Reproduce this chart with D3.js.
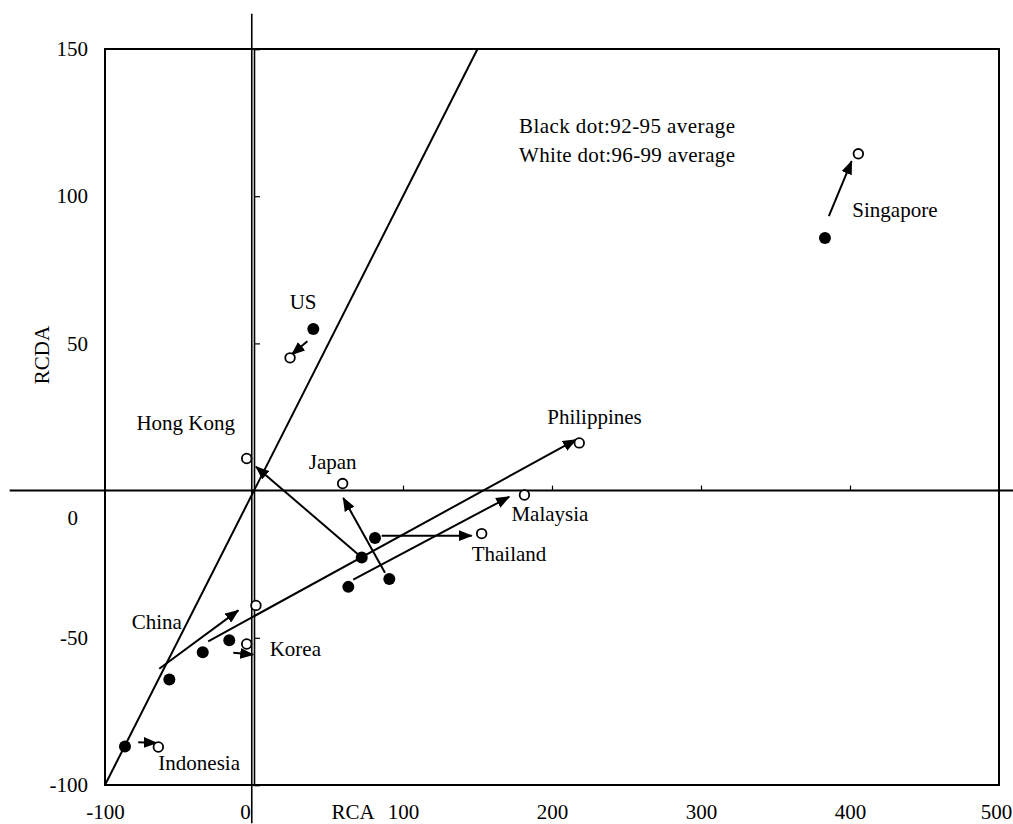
<!DOCTYPE html>
<html>
<head>
<meta charset="utf-8">
<script src="https://cdn.jsdelivr.net/npm/d3@7"></script>
<style>
  html, body { margin: 0; padding: 0; background: #fff; }
  svg { display: block; }
  text { font-family: "Liberation Serif", "Times New Roman", serif; fill: #000; }
</style>
</head>
<body>
<svg id="chart" width="1013" height="824"></svg>
<script>
// Tick values
const xTicks = [-100, 0, 100, 200, 300, 400, 500];
const yTicks = [-100, -50, 0, 50, 100, 150];

// Countries and their (RCA, RCDA) positions
const countries = ["Singapore", "US", "Hong Kong", "Japan", "Thailand", "Malaysia", "Philippines", "Korea", "China", "Indonesia"];
// 1992-95 average (black dots)
const rca9295  = [383.2, 39.8, 72.3, 90.8, 81.2, 63.3, -34.4, -16.6, -56.8, -86.6];
const rcda9295 = [85.8, 54.9, -22.7, -30.0, -16.1, -32.7, -54.9, -50.8, -64.2, -86.9];
// 1996-99 average (white dots)
const rca9699  = [405.6, 24.2, -4.9, 59.5, 152.8, 181.5, 218.3, -4.9, 1.3, -64.2];
const rcda9699 = [114.4, 45.1, 10.9, 2.4, -14.6, -1.5, 16.2, -52.1, -39.0, -87.1];

// Movement arrows (start and tip, in RCA / RCDA units)
const arrowFromRCA  = [385.8, 35.8, 72.3, 87.9, 85.7, 66.6, -30.7, -13.9, -63.6, -77.7];
const arrowFromRCDA = [93.2, 50.7, -22.7, -27.9, -15.3, -30.2, -51.2, -55.1, -60.5, -85.5];
const arrowToRCA    = [401.1, 25.3, 1.3, 59.9, 146.1, 171.3, 216.1, -0.5, -10.5, -65.3];
const arrowToRCDA   = [111.9, 46.2, 8.1, -2.5, -15.3, -2.1, 17.3, -55.7, -40.7, -85.7];

// Reference line RCDA = RCA
const diagRCA  = [-100, 150];
const diagRCDA = [-100, 150];

// Crossing guide lines through the origin
const guideVRCA = -1.5, guideVRCDA = [162, -113];
const guideHRCDA = 0,   guideHRCA = [-164, 510];

const legendLines = ["Black dot:92-95 average", "White dot:96-99 average"];

// Label placement relative to the white dot (pixels)
const labelLayout = {
  "Singapore":   { dx: -6,  dy: 63,  anchor: "start" },
  "US":          { dx: 13,  dy: -49, anchor: "middle" },
  "Hong Kong":   { dx: -61, dy: -29, anchor: "middle" },
  "Japan":       { dx: -10, dy: -15, anchor: "middle" },
  "Thailand":    { dx: -10, dy: 27,  anchor: "start" },
  "Malaysia":    { dx: -13, dy: 26,  anchor: "start" },
  "Philippines": { dx: -32, dy: -19, anchor: "start" },
  "Korea":       { dx: 23,  dy: 12,  anchor: "start" },
  "China":       { dx: -74, dy: 24,  anchor: "end" },
  "Indonesia":   { dx: 0,   dy: 23,  anchor: "start" }
};

const FONT = 21;
const svg = d3.select("#chart");

const x = d3.scaleLinear().domain([-100, 500]).range([105, 999]);
const y = d3.scaleLinear().domain([-100, 150]).range([785, 49]);

// Plain hyphen-minus tick text
const fmt = d => String(d);

// Arrowhead
svg.append("defs").append("marker")
  .attr("id", "head")
  .attr("viewBox", "0 0 14 11")
  .attr("refX", 13).attr("refY", 5.5)
  .attr("markerWidth", 14).attr("markerHeight", 11)
  .attr("markerUnits", "userSpaceOnUse")
  .attr("orient", "auto")
  .append("path").attr("d", "M0,0L14,5.5L0,11Z").attr("fill", "#000");

// Plot frame
svg.append("rect")
  .attr("x", x(-100)).attr("y", y(150))
  .attr("width", x(500) - x(-100)).attr("height", y(-100) - y(150))
  .attr("fill", "none").attr("stroke", "#000").attr("stroke-width", 2);

// Guide lines crossing the whole figure
svg.append("line")
  .attr("x1", x(guideVRCA)).attr("x2", x(guideVRCA))
  .attr("y1", y(guideVRCDA[0])).attr("y2", y(guideVRCDA[1]))
  .attr("stroke", "#000").attr("stroke-width", 1.6);
svg.append("line")
  .attr("x1", x(guideHRCA[0])).attr("x2", x(guideHRCA[1]))
  .attr("y1", y(guideHRCDA)).attr("y2", y(guideHRCDA))
  .attr("stroke", "#000").attr("stroke-width", 2);

// Axes crossing at the origin, with inner ticks
const yAxisIn = d3.axisRight(y).tickValues(yTicks.filter(v => v !== 0)).tickSize(6).tickFormat("");
svg.append("g").attr("transform", `translate(${x(0)},0)`).call(yAxisIn)
  .call(g => g.selectAll("path.domain").attr("stroke-width", 1.6))
  .call(g => g.selectAll("line").attr("stroke-width", 1.2));
const xAxisIn = d3.axisTop(x).tickValues(xTicks.filter(v => v !== 0 && v !== -100 && v !== 500)).tickSize(5).tickFormat("");
svg.append("g").attr("transform", `translate(0,${y(0)})`).call(xAxisIn)
  .call(g => g.selectAll("path.domain").remove())
  .call(g => g.selectAll("line").attr("stroke-width", 1.2));

// Tick labels on the frame
const yLab = svg.append("g").attr("transform", `translate(${x(-100)},0)`)
  .call(d3.axisLeft(y).tickValues(yTicks).tickSize(0).tickPadding(17).tickFormat(fmt));
yLab.select(".domain").remove();
yLab.attr("font-family", "Liberation Serif").attr("font-size", FONT);
yLab.selectAll("text").filter(d => d === 0).attr("transform", "translate(-10,27)");

const xLab = svg.append("g").attr("transform", `translate(0,${y(-100)})`)
  .call(d3.axisBottom(x).tickValues(xTicks).tickSize(0).tickPadding(19).tickFormat(fmt));
xLab.select(".domain").remove();
xLab.attr("font-family", "Liberation Serif").attr("font-size", FONT);
xLab.selectAll("text").filter(d => d === 0).attr("transform", "translate(-9,0)");
xLab.selectAll("text").filter(d => d === 500).attr("transform", "translate(-3,0)");

// Axis titles
svg.append("text").attr("x", 353).attr("y", 819).attr("text-anchor", "middle")
  .attr("font-size", FONT).text("RCA");
svg.append("text").attr("transform", "translate(49,355) rotate(-90)").attr("text-anchor", "middle")
  .attr("font-size", FONT).text("RCDA");

// Reference line RCDA = RCA
svg.append("line")
  .attr("x1", x(diagRCA[0])).attr("y1", y(diagRCDA[0]))
  .attr("x2", x(diagRCA[1])).attr("y2", y(diagRCDA[1]))
  .attr("stroke", "#000").attr("stroke-width", 2);

const rows = countries.map((c, i) => ({
  name: c,
  x0: rca9295[i], y0: rcda9295[i],
  x1: rca9699[i], y1: rcda9699[i],
  ax0: arrowFromRCA[i], ay0: arrowFromRCDA[i],
  ax1: arrowToRCA[i], ay1: arrowToRCDA[i]
}));

// Movement arrows
svg.append("g").selectAll("line").data(rows).join("line")
  .attr("x1", d => x(d.ax0)).attr("y1", d => y(d.ay0))
  .attr("x2", d => x(d.ax1)).attr("y2", d => y(d.ay1))
  .attr("stroke", "#000").attr("stroke-width", 2)
  .attr("marker-end", "url(#head)");

// 1992-95 dots
svg.append("g").selectAll("circle").data(rows).join("circle")
  .attr("cx", d => x(d.x0)).attr("cy", d => y(d.y0)).attr("r", 6)
  .attr("fill", "#000");

// 1996-99 dots
svg.append("g").selectAll("circle").data(rows).join("circle")
  .attr("cx", d => x(d.x1)).attr("cy", d => y(d.y1)).attr("r", 4.8)
  .attr("fill", "#fff").attr("stroke", "#000").attr("stroke-width", 1.8);

// Country labels
svg.append("g").selectAll("text").data(rows).join("text")
  .attr("x", d => x(d.x1) + labelLayout[d.name].dx)
  .attr("y", d => y(d.y1) + labelLayout[d.name].dy)
  .attr("text-anchor", d => labelLayout[d.name].anchor)
  .attr("font-size", FONT)
  .text(d => d.name);

// Legend note
svg.append("g").selectAll("text").data(legendLines).join("text")
  .attr("x", 627).attr("y", (d, i) => 133 + i * 29)
  .attr("text-anchor", "middle").attr("font-size", FONT)
  .attr("textLength", 216).attr("lengthAdjust", "spacing")
  .text(d => d);
</script>
</body>
</html>
